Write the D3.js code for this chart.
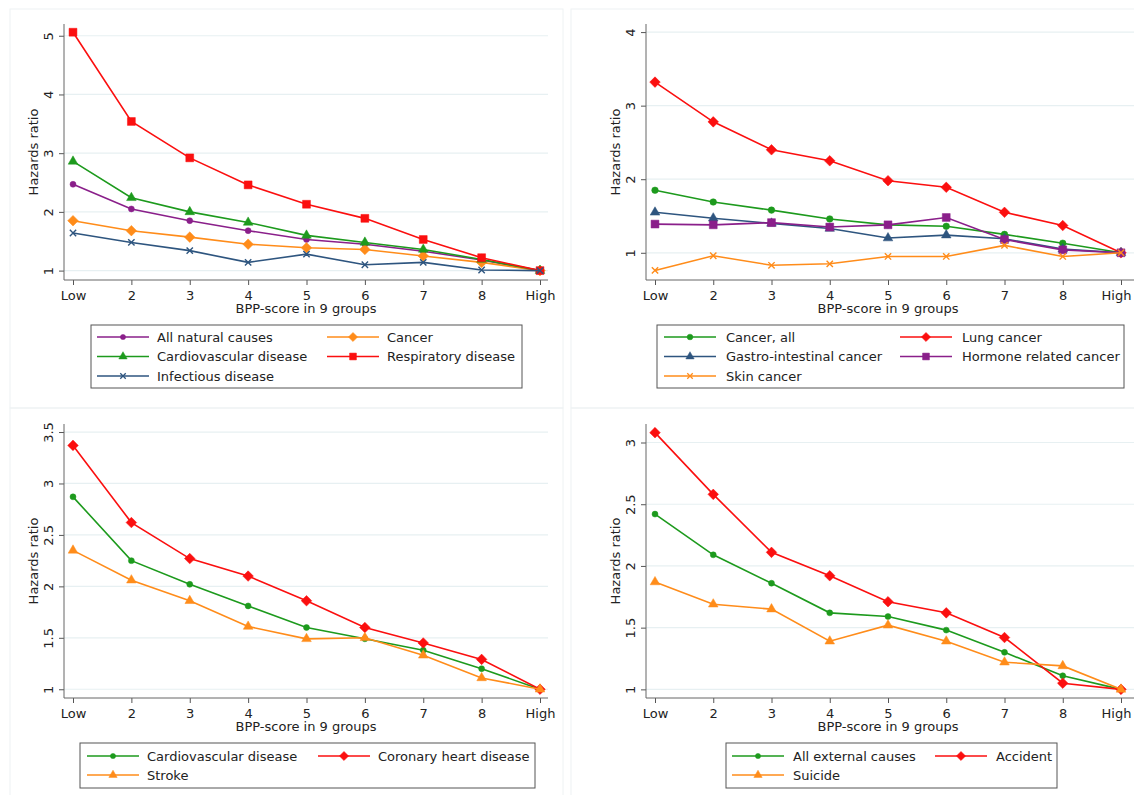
<!DOCTYPE html>
<html>
<head>
<meta charset="utf-8">
<title>Hazards ratio by BPP-score</title>
<script src="https://d3js.org/d3.v7.min.js"></script>
<style>
  body { margin: 0; background: #fff; }
  svg text { font-family: "DejaVu Sans", Arial, sans-serif; font-size: 13px; fill: #222; }
</style>
</head>
<body>
<svg id="chart" width="1134" height="795"></svg>
<script>
// ---- data ----
var groups = ["Low", "2", "3", "4", "5", "6", "7", "8", "High"];

// top left: natural causes
var allNatural     = [2.47, 2.05, 1.85, 1.68, 1.53, 1.45, 1.33, 1.18, 1.00];
var cancer         = [1.85, 1.68, 1.57, 1.45, 1.39, 1.36, 1.25, 1.14, 1.00];
var cardiovascular = [2.86, 2.24, 2.00, 1.82, 1.60, 1.48, 1.36, 1.19, 1.00];
var respiratory    = [5.06, 3.54, 2.92, 2.46, 2.13, 1.89, 1.53, 1.22, 1.00];
var infectious     = [1.64, 1.48, 1.34, 1.14, 1.28, 1.10, 1.14, 1.01, 1.00];

// top right: cancers
var cancerAll = [1.85, 1.69, 1.58, 1.46, 1.38, 1.36, 1.25, 1.13, 1.00];
var lung      = [3.32, 2.78, 2.40, 2.25, 1.98, 1.89, 1.55, 1.37, 1.00];
var gastro    = [1.55, 1.47, 1.40, 1.33, 1.20, 1.24, 1.19, 1.05, 1.00];
var hormone   = [1.39, 1.38, 1.41, 1.35, 1.38, 1.48, 1.18, 1.04, 1.00];
var skin      = [0.76, 0.96, 0.83, 0.85, 0.95, 0.95, 1.10, 0.95, 1.00];

// bottom left: cardiovascular
var cvd    = [2.87, 2.25, 2.02, 1.81, 1.60, 1.49, 1.38, 1.20, 1.00];
var chd    = [3.37, 2.62, 2.27, 2.10, 1.86, 1.60, 1.45, 1.29, 1.00];
var stroke = [2.35, 2.06, 1.86, 1.61, 1.49, 1.50, 1.33, 1.11, 1.00];

// bottom right: external causes
var external = [2.42, 2.09, 1.86, 1.62, 1.59, 1.48, 1.30, 1.11, 1.00];
var accident = [3.08, 2.58, 2.11, 1.92, 1.71, 1.62, 1.42, 1.05, 1.00];
var suicide  = [1.87, 1.69, 1.65, 1.39, 1.52, 1.39, 1.22, 1.19, 1.00];

var ticksTL = [1, 2, 3, 4, 5];
var ticksTR = [1, 2, 3, 4];
var ticksBL = [1, 1.5, 2, 2.5, 3, 3.5];
var ticksBR = [1, 1.5, 2, 2.5, 3];

// ---- colours and markers ----
var RED = "#fb0f0f", GREEN = "#1d9a1d", ORANGE = "#ff8c1a", PURPLE = "#8a1f8a", NAVY = "#2e557f";

var diamond = { draw: function (ctx, size) {
    var r = Math.sqrt(size / 2);
    ctx.moveTo(0, -r); ctx.lineTo(r, 0); ctx.lineTo(0, r); ctx.lineTo(-r, 0); ctx.closePath();
}};
var cross = { draw: function (ctx, size) {
    var r = Math.sqrt(size) / 2;
    ctx.moveTo(-r, -r); ctx.lineTo(r, r); ctx.moveTo(r, -r); ctx.lineTo(-r, r);
}};

var CIRCLE = { type: d3.symbolCircle, size: 34 };
var CIRCLE_S = { type: d3.symbolCircle, size: 28 };
var DIAMOND = { type: diamond, size: 56 };
var TRIANGLE = { type: d3.symbolTriangle, size: 40 };
var SQUARE = { type: d3.symbolSquare, size: 62 };
var CROSS = { type: cross, size: 40, hollow: true };

var svg = d3.select("#chart");

// faint frames round each graph
[[10, 9, 553, 399], [571, 9, 570, 399], [10, 408, 553, 395], [571, 408, 570, 395]].forEach(function (f) {
    svg.append("rect").attr("x", f[0]).attr("y", f[1]).attr("width", f[2]).attr("height", f[3])
        .attr("fill", "none").attr("stroke", "#eef2f3").attr("stroke-width", 1);
});

function panel(p) {
    var g = svg.append("g");
    var x = d3.scalePoint().domain(groups).range([p.x0, p.x1]);
    var y = d3.scaleLinear().domain(p.ydom).range([p.bottom, p.top]);

    // grid lines
    g.selectAll("line.grid").data(p.ticks).enter().append("line")
        .attr("x1", p.axisX).attr("x2", p.axisEnd)
        .attr("y1", function (d) { return y(d); }).attr("y2", function (d) { return y(d); })
        .attr("stroke", "#e7f0f2").attr("stroke-width", 1.2);

    // y axis, labels turned upright like the original
    var ya = g.append("g").attr("transform", "translate(" + p.axisX + ",0)")
        .call(d3.axisLeft(y).tickValues(p.ticks).tickFormat(function (d) { return String(d); })
            .tickSize(5).tickSizeOuter(0));
    ya.select(".domain").remove();
    ya.selectAll(".tick line").attr("stroke", "#555");
    ya.selectAll(".tick text")
        .attr("x", null).attr("dy", null)
        .attr("transform", "translate(-11,0) rotate(-90)")
        .attr("text-anchor", "middle");
    ya.attr("font-family", null).attr("font-size", null);

    // x axis
    var xa = g.append("g").attr("transform", "translate(0," + p.bottom + ")")
        .call(d3.axisBottom(x).tickSize(5).tickPadding(6).tickSizeOuter(0));
    xa.select(".domain").remove();
    xa.selectAll(".tick line").attr("stroke", "#555");
    xa.attr("font-family", null).attr("font-size", null);
    if (p.clipHigh) {
        // the last label sits at the page edge, keep it inside
        xa.selectAll(".tick text").filter(function (d) { return d === "High"; }).attr("dx", -5);
    }

    // axis lines
    g.append("line").attr("x1", p.axisX).attr("x2", p.axisX).attr("y1", p.top).attr("y2", p.bottom)
        .attr("stroke", "#666");
    g.append("line").attr("x1", p.axisX).attr("x2", p.axisEnd).attr("y1", p.bottom).attr("y2", p.bottom)
        .attr("stroke", "#666");

    // titles
    g.append("text").attr("transform", "translate(" + (p.axisX - 26) + "," + ((p.top + p.bottom) / 2) + ") rotate(-90)")
        .attr("text-anchor", "middle").text("Hazards ratio");
    g.append("text").attr("x", p.axisX + 242).attr("y", p.bottom + 33)
        .attr("text-anchor", "middle").text("BPP-score in 9 groups");

    // series
    var line = d3.line().x(function (d, i) { return x(groups[i]); }).y(function (d) { return y(d); });
    p.series.forEach(function (s) {
        g.append("path").datum(s.values).attr("d", line)
            .attr("fill", "none").attr("stroke", s.color).attr("stroke-width", 1.6);
        g.selectAll(null).data(s.values).enter().append("path")
            .attr("transform", function (d, i) { return "translate(" + x(groups[i]) + "," + y(d) + ")"; })
            .attr("d", d3.symbol().type(s.marker.type).size(s.marker.size))
            .attr("fill", s.marker.hollow ? "none" : s.color)
            .attr("stroke", s.color).attr("stroke-width", s.marker.hollow ? 1.4 : 0.5);
    });

    // legend
    var L = p.legend;
    g.append("rect").attr("x", L.x).attr("y", L.y).attr("width", L.w).attr("height", L.h)
        .attr("fill", "#fff").attr("stroke", "#555").attr("stroke-width", 1);
    p.series.forEach(function (s, i) {
        var cx = L.cols[i % 2], cy = L.rows[Math.floor(i / 2)];
        g.append("line").attr("x1", cx).attr("x2", cx + 52).attr("y1", cy).attr("y2", cy)
            .attr("stroke", s.color).attr("stroke-width", 1.6);
        g.append("path").attr("transform", "translate(" + (cx + 26) + "," + cy + ")")
            .attr("d", d3.symbol().type(s.marker.type).size(s.marker.size * 0.75))
            .attr("fill", s.marker.hollow ? "none" : s.color)
            .attr("stroke", s.color).attr("stroke-width", s.marker.hollow ? 1.3 : 0.5);
        g.append("text").attr("x", cx + L.textOff).attr("y", cy).attr("dy", "0.36em").text(s.name);
    });
}

panel({
    axisX: 64, axisEnd: 548, top: 24, bottom: 280, x0: 73, x1: 540, ydom: [0.84, 5.2], ticks: ticksTL,
    series: [
        { name: "All natural causes", values: allNatural, color: PURPLE, marker: CIRCLE_S },
        { name: "Cancer", values: cancer, color: ORANGE, marker: DIAMOND },
        { name: "Cardiovascular disease", values: cardiovascular, color: GREEN, marker: TRIANGLE },
        { name: "Respiratory disease", values: respiratory, color: RED, marker: SQUARE },
        { name: "Infectious disease", values: infectious, color: NAVY, marker: CROSS }
    ],
    legend: { x: 91, y: 325, w: 431, h: 63, cols: [97, 327], rows: [337, 356.5, 376], textOff: 60 }
});

panel({
    axisX: 646, axisEnd: 1140, top: 24, bottom: 280, x0: 655, x1: 1121, ydom: [0.63, 4.11], ticks: ticksTR,
    clipHigh: true,
    series: [
        { name: "Cancer, all", values: cancerAll, color: GREEN, marker: CIRCLE },
        { name: "Lung cancer", values: lung, color: RED, marker: DIAMOND },
        { name: "Gastro-intestinal cancer", values: gastro, color: NAVY, marker: TRIANGLE },
        { name: "Hormone related cancer", values: hormone, color: PURPLE, marker: SQUARE },
        { name: "Skin cancer", values: skin, color: ORANGE, marker: CROSS }
    ],
    legend: { x: 657, y: 325, w: 467, h: 63, cols: [664, 900], rows: [337, 356.5, 376], textOff: 62 }
});

panel({
    axisX: 64, axisEnd: 548, top: 424, bottom: 698, x0: 73, x1: 540, ydom: [0.915, 3.578], ticks: ticksBL,
    series: [
        { name: "Cardiovascular disease", values: cvd, color: GREEN, marker: CIRCLE_S },
        { name: "Coronary heart disease", values: chd, color: RED, marker: DIAMOND },
        { name: "Stroke", values: stroke, color: ORANGE, marker: TRIANGLE }
    ],
    legend: { x: 80, y: 743, w: 455, h: 45, cols: [87, 318], rows: [756, 775], textOff: 60 }
});

panel({
    axisX: 646, axisEnd: 1140, top: 424, bottom: 698, x0: 655, x1: 1121, ydom: [0.93, 3.15], ticks: ticksBR,
    clipHigh: true,
    series: [
        { name: "All external causes", values: external, color: GREEN, marker: CIRCLE_S },
        { name: "Accident", values: accident, color: RED, marker: DIAMOND },
        { name: "Suicide", values: suicide, color: ORANGE, marker: TRIANGLE }
    ],
    legend: { x: 726, y: 743, w: 331, h: 45, cols: [732, 935], rows: [756, 775], textOff: 61 }
});
</script>
</body>
</html>
